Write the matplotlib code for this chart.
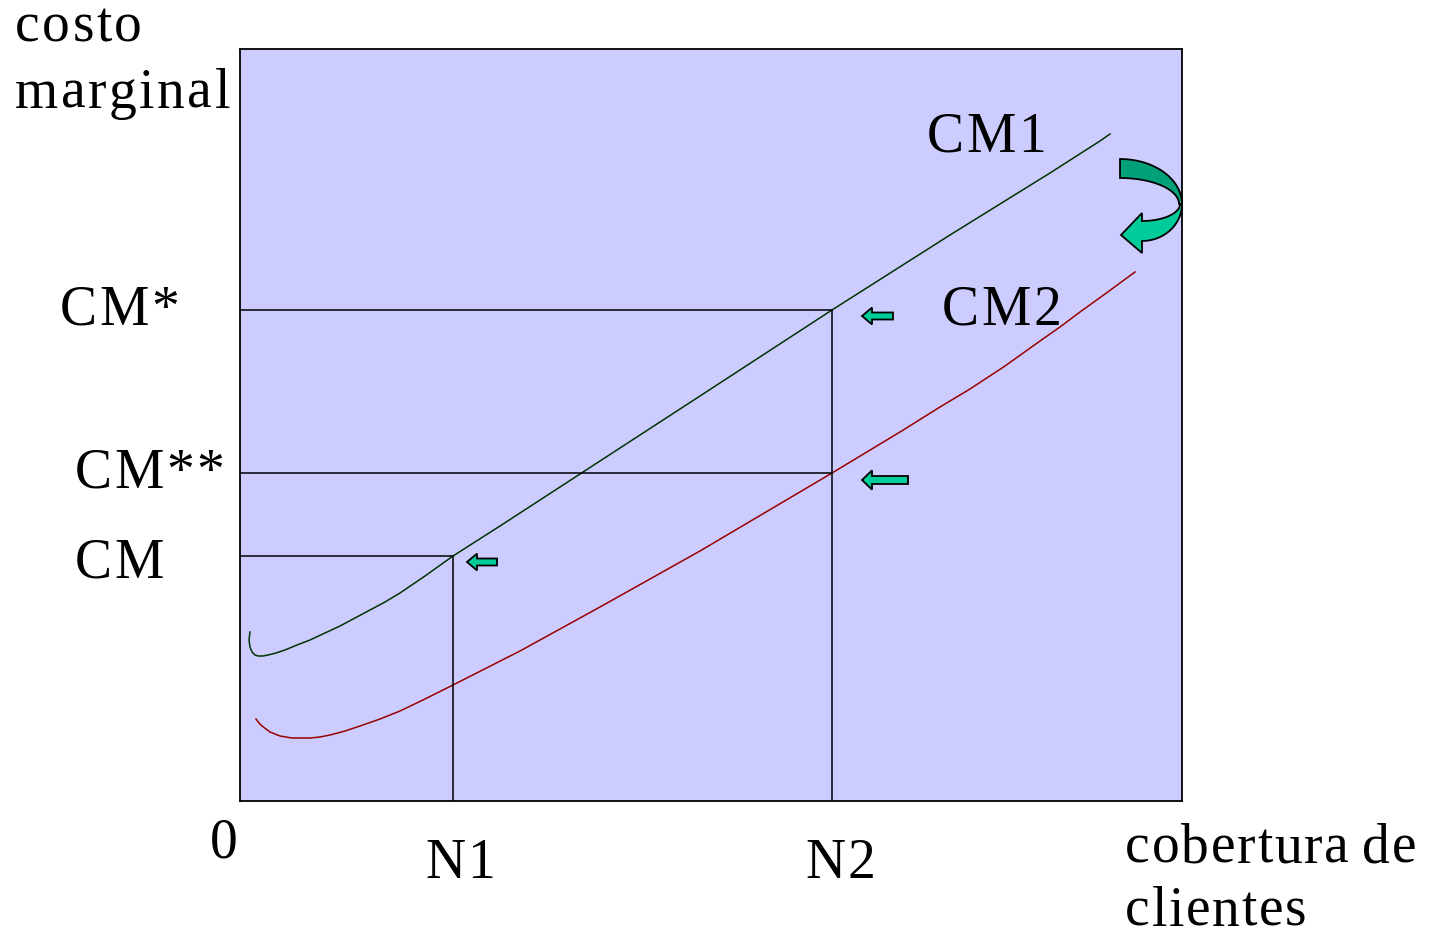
import numpy as np
import matplotlib.pyplot as plt
from matplotlib.patches import Polygon, FancyArrow

W, H = 1435, 937

# curves (x = coverage, y = marginal cost), units
cm1_x = [10, 9, 10, 12, 15, 18, 23, 28, 36, 45, 57, 70, 85, 100, 115, 130, 145, 160, 185, 213, 260, 360, 460, 592, 710, 810, 860, 870]
cm1_y = [169, 161, 154, 149, 146, 145, 145, 146, 148, 151, 156, 161, 168, 175, 183, 191, 199, 208, 225, 245, 275, 340, 405, 491, 566, 628, 660, 667]
cm2_x = [16, 19, 22, 26, 30, 35, 40, 46, 52, 60, 70, 80, 90, 105, 120, 140, 160, 185, 213, 280, 360, 460, 592, 660, 700, 730, 765, 800, 820, 840, 865, 895]
cm2_y = [82, 78, 75, 72, 69, 67, 65, 64, 63, 63, 63, 64, 66, 70, 75, 82, 90, 102, 116, 150, 194, 250, 328, 369, 394, 412, 435, 460, 474, 489, 507, 529]

n_pos = [213, 592]
n_labels = ["N1", "N2"]
cm_levels = [245, 328, 491]
cm_labels = ["CM", "CM**", "CM*"]

bg = "#ccccff"
arrow_fill = "#00cc99"
arrow_dark = "#00a07a"

fig = plt.figure(figsize=(W / 100, H / 100), dpi=100)
ax = fig.add_axes([240 / W, 1 - 802 / H, 942 / W, 752 / H])
ax.set_facecolor(bg)
ax.set_xlim(0, 942)
ax.set_ylim(0, 752)
ax.set_xticks([])
ax.set_yticks([])
for s in ax.spines.values():
    s.set_linewidth(1.3)

ax.plot(cm1_x, cm1_y, color="#003300", lw=1.1)
ax.plot(cm2_x, cm2_y, color="#990000", lw=1.1)

# guide lines
ax.plot([0, n_pos[1], n_pos[1]], [cm_levels[2], cm_levels[2], 0], color="black", lw=1.1)
ax.plot([0, n_pos[1]], [cm_levels[1], cm_levels[1]], color="black", lw=1.1)
ax.plot([0, n_pos[0], n_pos[0]], [cm_levels[0], cm_levels[0], 0], color="black", lw=1.1)

# small arrows pointing left
for tail, tip, y, w in [(668, 622, 321, 8), (653, 622, 485, 7), (257, 227, 239, 7)]:
    ax.add_patch(FancyArrow(tail, y, tip - tail, 0, width=w, head_width=w * 2.4,
                            head_length=10, length_includes_head=True,
                            fc=arrow_fill, ec="black", lw=1.3))

# curved arrow (pixel coordinates converted to data units)
def pix(px, py):
    return px - 240, 802 - py

t = np.linspace(np.pi / 2, 0, 30)
outer = [pix(1120 + 62 * np.cos(a), 205 - 45 * np.sin(a)) for a in t]
inner = [pix(1120 + 59 * np.cos(a), 205 - 26 * np.sin(a)) for a in t[::-1]]
ax.add_patch(Polygon(outer + inner, closed=True, fc=arrow_dark, ec="black", lw=1.3, clip_on=False))

t2 = np.linspace(0, -np.pi / 2, 30)
low_out = [pix(1142 + 40 * np.cos(a), 205 - 37 * np.sin(a)) for a in t2]
head = [pix(1142, 254), pix(1121, 236), pix(1142, 214)]
low_in = [pix(1142 + 38 * np.cos(a), 205 - 17 * np.sin(a)) for a in t2[::-1]]
ax.add_patch(Polygon(low_out + head + low_in, closed=True, fc=arrow_fill, ec="black", lw=1.3, clip_on=False))

font = dict(family="Liberation Serif", fontsize=40, va="baseline")
renderer = fig.canvas.get_renderer()

def ftext(px, py, s, gap=2.5):
    # draw letter by letter to get the wide letter spacing of the original
    x = px
    for ch in s:
        t = fig.text(x / W, 1 - py / H, ch, **font)
        if ch == " ":
            x += 10 + gap
            continue
        x += t.get_window_extent(renderer).width + gap

ftext(15, 42, "costo")
ftext(15, 108, "marginal")
ftext(60, 325, cm_labels[2])
ftext(75, 488, cm_labels[1])
ftext(75, 578, cm_labels[0])
ftext(927, 152, "CM1")
ftext(942, 325, "CM2")
ftext(210, 858, "0")
ftext(425, 878, n_labels[0])
ftext(805, 878, n_labels[1])
ftext(1125, 863, "cobertura de", gap=1.8)
ftext(1125, 926, "clientes", gap=1.8)

fig.savefig("out.png", dpi=100, facecolor="white")
